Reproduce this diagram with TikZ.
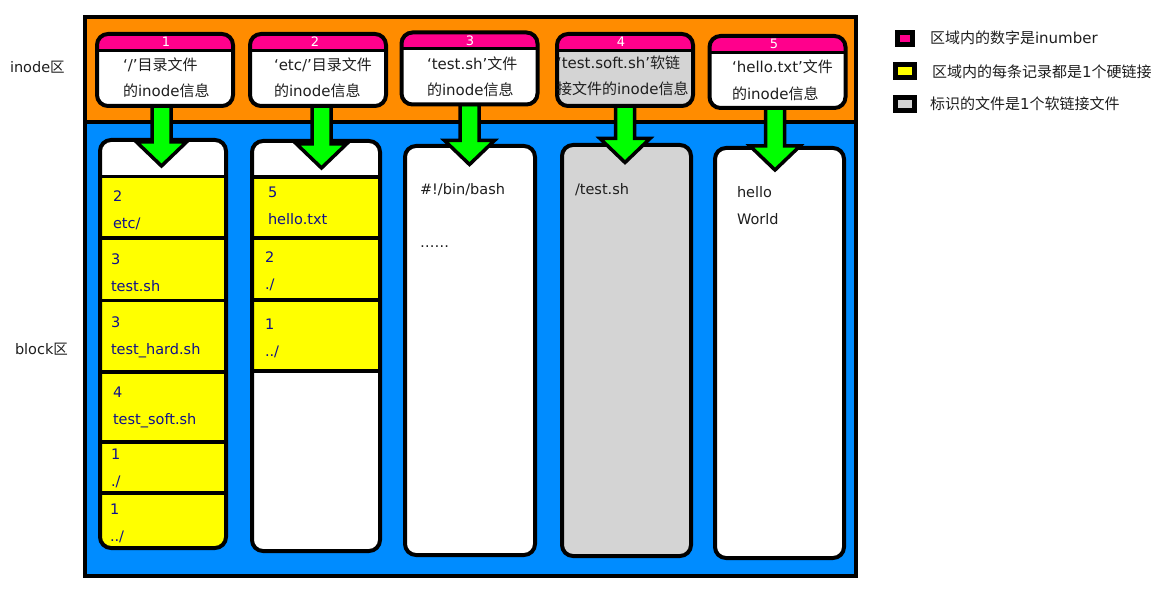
\documentclass[tikz,border=0pt]{standalone}
\usepackage{fontspec}
\setmainfont{DejaVu Sans}
\newfontfamily\cjk{Noto Sans CJK SC}
\usetikzlibrary{calc}
\definecolor{zoneorange}{RGB}{255,140,0}
\definecolor{zoneblue}{RGB}{0,140,255}
\definecolor{headpink}{RGB}{255,0,140}
\definecolor{cellyellow}{RGB}{255,255,0}
\definecolor{softgray}{RGB}{212,212,212}
\definecolor{arrowgreen}{RGB}{0,255,0}
\definecolor{celltext}{RGB}{15,15,140}
\definecolor{darktext}{RGB}{30,30,30}
\newcommand{\zh}[1]{{\cjk #1}}
\tikzset{
  boxbase/.style={rectangle, rounded corners=11, draw=none, outer sep=0pt, inner sep=0pt},
  inodebox/.style={boxbase, minimum width=136, minimum height=72},
  blockbox/.style={boxbase},
  boxborder/.style={draw=black, line width=4, rounded corners=11},
  cellline/.style={draw=black, line width=3.5},
  greenarrow/.style={fill=arrowgreen, draw=black, line width=3.5, line join=miter},
  txt/.style={inner sep=0pt, outer sep=0pt, text=darktext, align=left},
  itext/.style={txt, anchor=base west, font=\fontsize{15}{26}\selectfont},
  ctext/.style={txt, anchor=base west, text=celltext, font=\fontsize{14.5}{27}\selectfont},
  wtext/.style={txt, anchor=base west, font=\fontsize{14.5}{27}\selectfont},
  numtext/.style={txt, text=white, font=\fontsize{13}{13}\selectfont},
  legbox/.style={rectangle, draw=black, line width=5, outer sep=0pt, inner sep=0pt, minimum width=15, minimum height=12},
  legtext/.style={txt, anchor=west, font=\fontsize{15}{18}\selectfont},
  sidetext/.style={txt, anchor=west, font=\fontsize{14.5}{18}\selectfont}
}
\newcommand{\inodeshape}[4]{%
  \node[inodebox, fill=#4] (#1) at (#2,#3) {};
  \begin{scope}
    \clip[rounded corners=11] (#1.north west) rectangle (#1.south east);
    \fill[headpink] (#1.north west) rectangle ($(#1.north east)+(0,16.5)$);
    \draw[line width=3] ($(#1.north west)+(0,16.5)$) -- ($(#1.north east)+(0,16.5)$);
  \end{scope}
  \draw[boxborder] (#1.north west) rectangle (#1.south east);
}
\newcommand{\fatarrow}[2]{%
  \coordinate (#2s) at (#1.south -| #2);
  \draw[greenarrow] ($(#2s)+(-9.5,0)$) -- ($(#2)+(-9.5,-24)$) -- ($(#2)+(-25,-24)$) -- (#2)
     -- ($(#2)+(25,-24)$) -- ($(#2)+(9.5,-24)$) -- ($(#2s)+(9.5,0)$) -- cycle;
}
\begin{document}
\begin{tikzpicture}[x=1pt, y=-1pt]
\useasboundingbox (0,0) rectangle (1172,593);

% zones
\fill[zoneorange] (85,17) rectangle (856,122.5);
\fill[zoneblue] (85,122.5) rectangle (856,576);
\draw[line width=4] (85,17) rectangle (856,576);
\draw[line width=4] (85,122.5) -- (856,122.5);

% side labels
\node[sidetext] (labinode) at (10,67) {inode\zh{区}};
\node[sidetext] (labblock) at (15,349) {block\zh{区}};

% block boxes
\node[blockbox, fill=white, minimum width=126, minimum height=408] (b1) at (163,344) {};
\begin{scope}
  \clip[rounded corners=11] (b1.north west) rectangle (b1.south east);
  \fill[cellyellow] (100,176.5) rectangle (226,548);
  \foreach \yy in {176.5,238,300.5,372,442,493} {\draw[cellline] (100,\yy) -- (226,\yy);}
\end{scope}
\draw[boxborder] (b1.north west) rectangle (b1.south east);

\node[blockbox, fill=white, minimum width=128, minimum height=410] (b2) at (316,346) {};
\begin{scope}
  \clip[rounded corners=11] (b2.north west) rectangle (b2.south east);
  \fill[cellyellow] (252,177) rectangle (380,371);
  \foreach \yy in {177,238,300,371} {\draw[cellline] (252,\yy) -- (380,\yy);}
\end{scope}
\draw[boxborder] (b2.north west) rectangle (b2.south east);

\node[blockbox, fill=white, minimum width=130, minimum height=409] (b3) at (470,350.5) {};
\draw[boxborder] (b3.north west) rectangle (b3.south east);

\node[blockbox, fill=softgray, minimum width=129, minimum height=411] (b4) at (626.5,350.5) {};
\draw[boxborder] (b4.north west) rectangle (b4.south east);

\node[blockbox, fill=white, minimum width=129, minimum height=410] (b5) at (779.5,353) {};
\draw[boxborder] (b5.north west) rectangle (b5.south east);

% block texts (anchor = baseline of the last line)
\node[ctext] (c11) at (113,228.3) {2\\etc/};
\node[ctext] (c12) at (111,291.3) {3\\test.sh};
\node[ctext] (c13) at (111,354.3) {3\\test\_hard.sh};
\node[ctext] (c14) at (113,424.3) {4\\test\_soft.sh};
\node[ctext] (c15) at (111,486.3) {1\\./};
\node[ctext] (c16) at (110,541.3) {1\\../};
\node[ctext] (c21) at (268,224.3) {5\\hello.txt};
\node[ctext] (c22) at (265,289.3) {2\\./};
\node[ctext] (c23) at (265,356.3) {1\\../};
\node[wtext] (t3a) at (420,194.3) {\#!/bin/bash};
\node[wtext] (t3b) at (420,248) {……};
\node[wtext] (t4a) at (575,194.3) {/test.sh};
\node[wtext] (t5a) at (737,224.3) {hello\\World};

% inode box placement (for the arrows)
\node[inodebox] (i1) at (165,70) {};
\node[inodebox] (i2) at (318,70) {};
\node[inodebox] (i3) at (469.5,68.5) {};
\node[inodebox] (i4) at (625,70) {};
\node[inodebox] (i5) at (777.5,72) {};

% arrows
\coordinate (t1) at (161.5,166);
\coordinate (t2) at (321.5,168);
\coordinate (t3) at (469.5,164.5);
\coordinate (t4) at (625,162.5);
\coordinate (t5) at (775,170);
\fatarrow{i1}{t1}
\fatarrow{i2}{t2}
\fatarrow{i3}{t3}
\fatarrow{i4}{t4}
\fatarrow{i5}{t5}

% inode boxes drawn
\inodeshape{n1}{165}{70}{white}
\inodeshape{n2}{318}{70}{white}
\inodeshape{n3}{469.5}{68.5}{white}
\inodeshape{n4}{625}{70}{softgray}
\inodeshape{n5}{777.5}{72}{white}

\node[numtext] (h1) at (166,42) {1};
\node[numtext] (h2) at (315,42) {2};
\node[numtext] (h3) at (470,40.5) {3};
\node[numtext] (h4) at (621,41.5) {4};
\node[numtext] (h5) at (774,43.5) {5};

\node[itext] (it1) at (123,96.5) {‘/’\zh{目录文件}\\\zh{的}inode\zh{信息}};
\node[itext] (it2) at (274,96.5) {‘etc/’\zh{目录文件}\\\zh{的}inode\zh{信息}};
\node[itext] (it3) at (427,96) {‘test.sh’\zh{文件}\\\zh{的}inode\zh{信息}};
\node[itext] (it4) at (557,94.5) {‘test.soft.sh’\zh{软链}\\\zh{接文件的}inode\zh{信息}};
\node[itext, font=\fontsize{15}{27}\selectfont] (it5) at (732,99.5) {‘hello.txt’\zh{文件}\\\zh{的}inode\zh{信息}};

% legend
\node[legbox, fill=headpink] (l1) at (905,38.5) {};
\node[legbox, fill=cellyellow, minimum width=19, minimum height=13] (l2) at (905,71) {};
\node[legbox, fill=softgray, minimum width=19, minimum height=13] (l3) at (905,104) {};
\node[legtext] (lt1) at (930,38) {\zh{区域内的数字是}inumber};
\node[legtext] (lt2) at (932,71.5) {\zh{区域内的每条记录都是}1\zh{个硬链接}};
\node[legtext] (lt3) at (930,103.5) {\zh{标识的文件是}1\zh{个软链接文件}};
\end{tikzpicture}
\end{document}
